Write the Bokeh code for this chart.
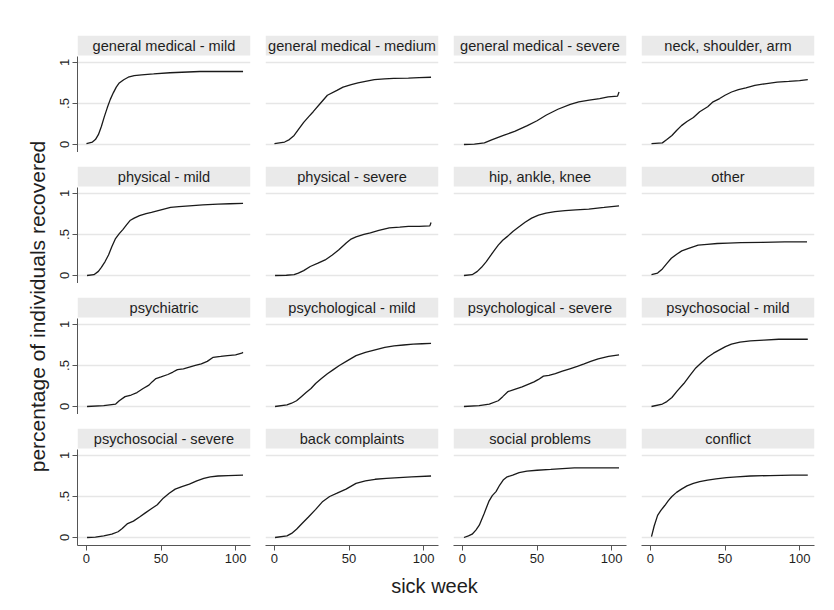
from bokeh.plotting import figure
from bokeh.layouts import gridplot, row, column
from bokeh.models import Range1d, FixedTicker, BoxAnnotation, Label
from bokeh.embed import file_html
from bokeh.resources import INLINE
import math

# ---------------- data ----------------
titles = ["general medical - mild", "general medical - medium", "general medical - severe",
          "neck, shoulder, arm", "physical - mild", "physical - severe", "hip, ankle, knee",
          "other", "psychiatric", "psychological - mild", "psychological - severe",
          "psychosocial - mild", "psychosocial - severe", "back complaints",
          "social problems", "conflict"]

gm_mild_x = [0, 4, 6, 8, 10, 12, 14, 16, 18, 20, 22, 25, 28, 32, 37, 45, 56, 76, 105]
gm_mild_y = [0.01, 0.03, 0.06, 0.12, 0.22, 0.34, 0.45, 0.55, 0.63, 0.70, 0.75, 0.79, 0.82, 0.84, 0.85, 0.86, 0.875, 0.89, 0.89]

gm_medium_x = [0, 6.8, 10, 13.2, 16, 19.6, 23, 26, 30.7, 35.5, 41.9, 46, 51.5, 56, 61, 67, 73.8, 80, 89.8, 97, 105]
gm_medium_y = [0.01, 0.03, 0.06, 0.11, 0.18, 0.27, 0.34, 0.40, 0.50, 0.60, 0.66, 0.70, 0.73, 0.75, 0.77, 0.79, 0.80, 0.805, 0.81, 0.815, 0.82]

gm_severe_x = [1, 8, 14.7, 20, 27.5, 35, 43.5, 50, 56.3, 64, 72.3, 78, 85, 92, 97.7, 104, 105]
gm_severe_y = [0, 0.005, 0.02, 0.06, 0.11, 0.16, 0.23, 0.29, 0.36, 0.43, 0.49, 0.52, 0.54, 0.56, 0.58, 0.59, 0.64]

neck_x = [0.7, 8, 11, 14.4, 17.5, 20.8, 24.5, 28.8, 33, 38.4, 42, 46.4, 50, 54.4, 59, 64, 70, 76.7, 85, 92.7, 100, 105.5]
neck_y = [0.01, 0.02, 0.06, 0.11, 0.17, 0.23, 0.28, 0.33, 0.40, 0.46, 0.52, 0.56, 0.60, 0.64, 0.67, 0.69, 0.72, 0.74, 0.76, 0.77, 0.78, 0.79]

phys_mild_x = [0.4, 5, 8, 10, 12.5, 14.8, 17, 19.5, 22, 24.4, 27, 29.2, 32, 35.6, 40, 43.6, 50, 56.4, 62, 69, 78, 88.2, 96, 105]
phys_mild_y = [0, 0.01, 0.05, 0.10, 0.17, 0.25, 0.35, 0.45, 0.51, 0.56, 0.62, 0.67, 0.70, 0.73, 0.755, 0.77, 0.80, 0.83, 0.84, 0.85, 0.86, 0.87, 0.875, 0.88]

phys_severe_x = [0.4, 8, 13.2, 16, 19.6, 24, 29.2, 34, 38.8, 43, 48.3, 51, 54.7, 60, 64.3, 70, 77, 84, 89.8, 97, 104.2, 105]
phys_severe_y = [0, 0.003, 0.01, 0.03, 0.06, 0.11, 0.15, 0.19, 0.25, 0.31, 0.40, 0.44, 0.47, 0.50, 0.52, 0.55, 0.58, 0.59, 0.60, 0.60, 0.605, 0.645]

hip_x = [1, 6.5, 10, 12.8, 16, 19.2, 21.5, 24, 27, 30.4, 34, 38.4, 42, 46.4, 51, 56, 62, 68.8, 76, 84.7, 95, 105]
hip_y = [0, 0.01, 0.05, 0.10, 0.17, 0.25, 0.31, 0.37, 0.43, 0.48, 0.54, 0.60, 0.65, 0.70, 0.735, 0.76, 0.78, 0.79, 0.80, 0.81, 0.83, 0.85]

other_x = [0.7, 4.8, 8, 11.2, 14, 17.6, 21, 25.6, 32, 38, 44.8, 52, 60.7, 75, 90, 105]
other_y = [0.01, 0.03, 0.08, 0.15, 0.21, 0.26, 0.30, 0.33, 0.37, 0.38, 0.39, 0.395, 0.40, 0.405, 0.41, 0.41]

psychiatric_x = [0.4, 11.6, 19.6, 22, 25.9, 30, 33.9, 38, 41.9, 44, 46.6, 50, 54.6, 58, 61, 65, 69, 73, 77, 81, 85, 90, 94.6, 100, 104.1, 105]
psychiatric_y = [0, 0.01, 0.03, 0.07, 0.12, 0.14, 0.17, 0.22, 0.26, 0.30, 0.34, 0.36, 0.39, 0.42, 0.45, 0.46, 0.48, 0.50, 0.52, 0.55, 0.60, 0.61, 0.62, 0.63, 0.65, 0.66]

psych_mild_x = [0.4, 8.4, 11.5, 14.8, 18, 21.2, 24.5, 27.6, 31.5, 35.5, 39.5, 43.5, 49, 54.7, 61, 67.5, 74, 80.2, 86.5, 93, 99, 105]
psych_mild_y = [0, 0.02, 0.04, 0.07, 0.12, 0.17, 0.22, 0.28, 0.34, 0.40, 0.45, 0.50, 0.56, 0.62, 0.66, 0.69, 0.72, 0.74, 0.75, 0.76, 0.765, 0.77]

psych_severe_x = [1, 11.2, 18, 24, 27, 30.4, 35, 40, 44, 48, 51, 54.3, 58, 62.3, 67, 72, 77, 81.6, 86, 91, 98, 105]
psych_severe_y = [0, 0.01, 0.03, 0.07, 0.12, 0.18, 0.21, 0.24, 0.27, 0.30, 0.33, 0.37, 0.38, 0.40, 0.43, 0.46, 0.49, 0.52, 0.55, 0.58, 0.61, 0.63]

psysoc_mild_x = [0.7, 8, 11, 14.4, 18, 22.4, 26.5, 30.4, 34.5, 38.3, 42.3, 46.3, 50.3, 54.3, 60, 67, 76, 86, 95, 105.5]
psysoc_mild_y = [0, 0.03, 0.06, 0.11, 0.19, 0.28, 0.38, 0.47, 0.54, 0.60, 0.65, 0.69, 0.73, 0.76, 0.785, 0.80, 0.81, 0.82, 0.82, 0.82]

psysoc_severe_x = [0.4, 6, 11.6, 17, 21.2, 24, 27.6, 31.5, 35.6, 39.5, 43.5, 47.5, 51.5, 55.5, 59.5, 64, 69, 74, 78.7, 83, 88.2, 95, 105]
psysoc_severe_y = [0, 0.005, 0.02, 0.04, 0.07, 0.11, 0.17, 0.20, 0.25, 0.30, 0.35, 0.40, 0.48, 0.54, 0.59, 0.62, 0.65, 0.69, 0.72, 0.74, 0.75, 0.755, 0.76]

back_x = [0.4, 8.4, 11.5, 14.8, 18.5, 22.8, 27.5, 32.4, 37, 42, 48, 54.7, 61, 67.5, 75, 83.5, 92, 105]
back_y = [0, 0.02, 0.05, 0.10, 0.17, 0.25, 0.34, 0.44, 0.50, 0.54, 0.59, 0.66, 0.69, 0.71, 0.72, 0.73, 0.74, 0.75]

social_x = [1, 4, 6.5, 9, 11.3, 14.5, 17.7, 20, 22.5, 25, 27.3, 30, 33.7, 38, 43.2, 50, 59.2, 67, 75, 90, 105]
social_y = [0, 0.02, 0.04, 0.09, 0.15, 0.29, 0.44, 0.51, 0.56, 0.64, 0.70, 0.74, 0.76, 0.79, 0.81, 0.82, 0.83, 0.84, 0.85, 0.85, 0.85]

conflict_x = [0.7, 2.5, 4.8, 7, 9.6, 12, 14.4, 17.5, 20.8, 24.5, 28.8, 33, 38.3, 44, 51, 58, 67, 80, 95, 105.5]
conflict_y = [0.01, 0.14, 0.27, 0.33, 0.39, 0.45, 0.50, 0.55, 0.59, 0.63, 0.66, 0.68, 0.70, 0.715, 0.73, 0.74, 0.75, 0.755, 0.76, 0.76]

series_x = [gm_mild_x, gm_medium_x, gm_severe_x, neck_x, phys_mild_x, phys_severe_x, hip_x, other_x,
            psychiatric_x, psych_mild_x, psych_severe_x, psysoc_mild_x, psysoc_severe_x, back_x, social_x, conflict_x]
series_y = [gm_mild_y, gm_medium_y, gm_severe_y, neck_y, phys_mild_y, phys_severe_y, hip_y, other_y,
            psychiatric_y, psych_mild_y, psych_severe_y, psysoc_mild_y, psysoc_severe_y, back_y, social_y, conflict_y]

x_ticks = [0, 50, 100]
y_ticks = [0, 0.5, 1]
y_tick_labels = {0: "0", 0.5: ".5", 1: "1"}
x_label = "sick week"
y_label = "percentage of individuals recovered"

# ---------------- styling / layout ----------------
FONT = "Liberation Sans"
X0, X1 = -6, 110
Y0, Y1 = -0.0976, 1.329
BAR_BOTTOM = 1.085
PLOT_TOP = 1.073
FW, FH = 173, 117
LEFT_W = 50
BAR_COLOR = "#eaeaea"
GRID_COLOR = "#e6e6e6"
AXIS_COLOR = "#555555"
TEXT_COLOR = "#1e1e1e"

figs = []
for i, (t, xs, ys) in enumerate(zip(titles, series_x, series_y)):
    r, c = divmod(i, 4)
    left = c == 0
    bottom = r == 3
    p = figure(frame_width=FW, frame_height=FH,
               x_range=Range1d(X0, X1), y_range=Range1d(Y0, Y1),
               output_backend="svg", toolbar_location=None,
               x_axis_location="below" if bottom else None,
               y_axis_location="left" if left else None,
               min_border_left=27 if left else 0,
               min_border_right=15 if c < 3 else 20,
               min_border_top=35 if r == 0 else 14,
               min_border_bottom=24 if bottom else 0)
    p.outline_line_color = None
    p.background_fill_color = "white"
    p.border_fill_color = "white"
    p.xgrid.visible = False
    p.ygrid.ticker = FixedTicker(ticks=y_ticks)
    p.ygrid.grid_line_color = GRID_COLOR
    p.ygrid.grid_line_width = 1.5

    p.add_layout(BoxAnnotation(bottom=BAR_BOTTOM, fill_color=BAR_COLOR, fill_alpha=1.0,
                               line_color=None, level="underlay"))
    p.add_layout(Label(x=(X0 + X1) / 2, y=(BAR_BOTTOM + Y1) / 2, text=t,
                       text_align="center", text_baseline="middle",
                       text_font=FONT, text_font_size="14.6px", text_color=TEXT_COLOR))

    p.line(xs, ys, line_color="#1a1a1a", line_width=1.3)

    if left:
        ax = p.yaxis[0]
        ax.ticker = FixedTicker(ticks=y_ticks)
        ax.major_label_overrides = y_tick_labels
        ax.major_label_orientation = "vertical"
        ax.bounds = (Y0, PLOT_TOP)
    if bottom:
        ax = p.xaxis[0]
        ax.ticker = FixedTicker(ticks=x_ticks)
    for ax in (p.xaxis + p.yaxis):
        ax.axis_line_color = AXIS_COLOR
        ax.major_tick_line_color = AXIS_COLOR
        ax.major_tick_in = 0
        ax.major_tick_out = 5
        ax.minor_tick_line_color = None
        ax.major_label_text_font = FONT
        ax.major_label_text_font_size = "13px"
        ax.major_label_text_color = TEXT_COLOR
        ax.major_label_standoff = 3
    figs.append(p)

grid = gridplot([figs[k:k + 4] for k in range(0, 16, 4)], toolbar_location=None)

ylab = figure(width=LEFT_W, height=610, x_range=Range1d(0, LEFT_W), y_range=Range1d(610, 0),
              output_backend="svg", toolbar_location=None, min_border=0,
              x_axis_location=None, y_axis_location=None)
ylab.outline_line_color = None
ylab.grid.visible = False
ylab.add_layout(Label(x=37, y=306, text=y_label, angle=math.pi / 2, text_align="center",
                      text_baseline="middle", text_font=FONT, text_font_size="21px",
                      text_color=TEXT_COLOR))

XLW = 834 - LEFT_W
xlab = figure(width=XLW, height=41, x_range=Range1d(LEFT_W, 834), y_range=Range1d(610, 569),
              output_backend="svg", toolbar_location=None, min_border=0,
              x_axis_location=None, y_axis_location=None)
xlab.outline_line_color = None
xlab.grid.visible = False
xlab.add_layout(Label(x=434, y=585, text=x_label, text_align="center", text_baseline="middle",
                      text_font=FONT, text_font_size="20px", text_color=TEXT_COLOR))

layout = row(ylab, column(grid, xlab))
open("out.html", "w").write(file_html(layout, INLINE))
